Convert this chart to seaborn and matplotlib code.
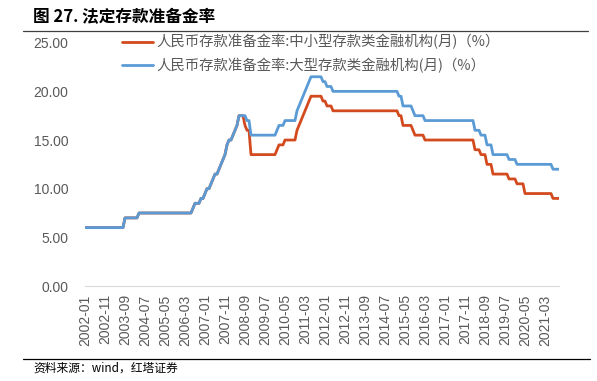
import numpy as np
import pandas as pd
import matplotlib
matplotlib.use("Agg")
import matplotlib.pyplot as plt
from matplotlib.lines import Line2D
import seaborn as sns

# ---------------- data (step changes) ----------------
start_month, end_month = "2002-01", "2021-10"

large_dates = ["2002-01", "2003-09", "2004-04", "2006-07", "2006-08", "2006-11",
               "2007-01", "2007-02", "2007-04", "2007-05", "2007-06", "2007-08",
               "2007-09", "2007-10", "2007-11", "2007-12", "2008-01", "2008-03",
               "2008-04", "2008-05", "2008-06", "2008-10", "2008-12", "2010-01",
               "2010-02", "2010-05", "2010-11", "2010-12", "2011-01", "2011-02",
               "2011-03", "2011-04", "2011-05", "2011-06", "2011-12", "2012-02",
               "2012-05", "2015-02", "2015-04", "2015-09", "2015-10", "2016-03",
               "2018-04", "2018-07", "2018-10", "2019-01", "2019-09", "2020-01",
               "2021-07"]
large_rates = [6.0, 7.0, 7.5, 8.0, 8.5, 9.0,
               9.5, 10.0, 10.5, 11.0, 11.5, 12.0,
               12.5, 13.0, 13.5, 14.5, 15.0, 15.5,
               16.0, 16.5, 17.5, 17.0, 15.5, 16.0,
               16.5, 17.0, 18.0, 18.5, 19.0, 19.5,
               20.0, 20.5, 21.0, 21.5, 21.0, 20.5,
               20.0, 19.5, 18.5, 18.0, 17.5, 17.0,
               16.0, 15.5, 14.5, 13.5, 13.0, 12.5,
               12.0]

small_dates = ["2002-01", "2003-09", "2004-04", "2006-07", "2006-08", "2006-11",
               "2007-01", "2007-02", "2007-04", "2007-05", "2007-06", "2007-08",
               "2007-09", "2007-10", "2007-11", "2007-12", "2008-01", "2008-03",
               "2008-04", "2008-05", "2008-06", "2008-09", "2008-10", "2008-12",
               "2010-01", "2010-02", "2010-05", "2010-11", "2010-12", "2011-01",
               "2011-02", "2011-03", "2011-04", "2011-05", "2011-06", "2011-12",
               "2012-02", "2012-05", "2015-02", "2015-04", "2015-09", "2015-10",
               "2016-03", "2018-04", "2018-07", "2018-10", "2019-01", "2019-09",
               "2020-01", "2020-05", "2021-07"]
small_rates = [6.0, 7.0, 7.5, 8.0, 8.5, 9.0,
               9.5, 10.0, 10.5, 11.0, 11.5, 12.0,
               12.5, 13.0, 13.5, 14.5, 15.0, 15.5,
               16.0, 16.5, 17.5, 16.5, 16.0, 13.5,
               14.0, 14.5, 15.0, 16.0, 16.5, 17.0,
               17.5, 18.0, 18.5, 19.0, 19.5, 19.0,
               18.5, 18.0, 17.5, 16.5, 16.0, 15.5,
               15.0, 14.0, 13.5, 12.5, 11.5, 11.0,
               10.5, 9.5, 9.0]

tick_labels = ["2002-01", "2002-11", "2003-09", "2004-07", "2005-05", "2006-03",
               "2007-01", "2007-11", "2008-09", "2009-07", "2010-05", "2011-03",
               "2012-01", "2012-11", "2013-09", "2014-07", "2015-05", "2016-03",
               "2017-01", "2017-11", "2018-09", "2019-07", "2020-05", "2021-03"]
y_ticks = [0, 5, 10, 15, 20, 25]

label_small = "人民币存款准备金率:中小型存款类金融机构(月)（%）"
label_large = "人民币存款准备金率:大型存款类金融机构(月)（%）"
title_text = "图 27. 法定存款准备金率"
source_text = "资料来源：wind，红塔证券"

# ---------------- build monthly table ----------------
months = pd.period_range(start_month, end_month, freq="M")


def monthly(dates, rates):
    s = pd.Series(rates, index=pd.PeriodIndex(dates, freq="M"))
    return s.reindex(months).ffill().to_numpy()


df = pd.DataFrame({
    "idx": np.arange(len(months)),
    "month": months.strftime("%Y-%m"),
    label_small: monthly(small_dates, small_rates),
    label_large: monthly(large_dates, large_rates),
})
long_df = df.melt(id_vars=["idx", "month"], var_name="series", value_name="rate")

# ---------------- plot ----------------
sns.set_theme(style="white")
plt.rcParams["font.family"] = ["Liberation Sans", "Noto Sans CJK SC", "DejaVu Sans"]

W, H = 597, 381
fig = plt.figure(figsize=(W / 100, H / 100), dpi=100)
ax = fig.add_axes([85 / W, 1 - 286 / H, (559 - 85) / W, (286 - 42.7) / H])

red, blue = "#D24A1E", "#5B9BD5"
sns.lineplot(data=long_df, x="idx", y="rate", hue="series",
             hue_order=[label_small, label_large], palette=[red, blue],
             linewidth=2.0, ax=ax, legend=False)

ax.set_xlim(0, len(months) - 1)
ax.set_ylim(0, 25)
month_list = list(df["month"])
ax.set_xticks([month_list.index(t) for t in tick_labels])
ax.set_xticklabels(tick_labels, rotation=90, fontsize=10, color="#595959")
ax.set_yticks(y_ticks)
ax.set_yticklabels([f"{v:.2f}" for v in y_ticks], fontsize=10, color="#595959")
ax.set_xlabel("")
ax.set_ylabel("")
ax.grid(False)
for side in ["top", "right", "left"]:
    ax.spines[side].set_visible(False)
ax.spines["bottom"].set_color("#D9D9D9")
ax.spines["bottom"].set_linewidth(0.8)
ax.tick_params(axis="x", direction="out", length=4, width=0.8, color="#D9D9D9", pad=2)
ax.tick_params(axis="y", length=0, pad=12)

handles = [Line2D([], [], color=red, lw=2.0), Line2D([], [], color=blue, lw=2.0)]
leg = ax.legend(handles, [label_small, label_large], loc="upper left",
                bbox_to_anchor=(121.7 / W, 1 - 34.3 / H), bbox_transform=fig.transFigure,
                frameon=False, prop={"family": ["Noto Sans CJK SC"], "size": 10.4},
                labelcolor="#595959", handlelength=2.15, handletextpad=0.28,
                labelspacing=0.59, borderpad=0, borderaxespad=0)

fig.text(33 / W, 1 - 17 / H, title_text, fontsize=12, fontweight="bold",
         family=["Noto Sans CJK SC"], va="center", ha="left", color="black")
fig.add_artist(Line2D([23 / W, 588 / W], [1 - 30.5 / H] * 2, color="#404040", lw=0.9,
                      transform=fig.transFigure))
fig.add_artist(Line2D([23 / W, 590 / W], [1 - 358.5 / H] * 2, color="black", lw=0.9,
                      transform=fig.transFigure))
fig.text(33 / W, 1 - 368 / H, source_text, fontsize=8.5, family=["Noto Sans CJK SC"],
         va="center", ha="left", color="black")

fig.savefig("out.png", dpi=100)
